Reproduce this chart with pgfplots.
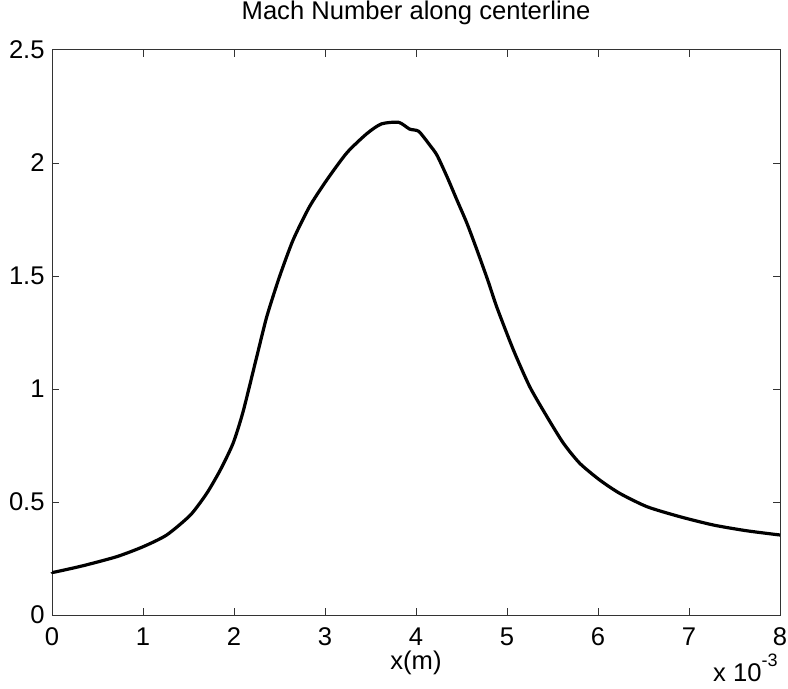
\documentclass[border=0pt]{standalone}
\usepackage{pgfplots}
\pgfplotsset{compat=1.18}
\usepackage{fontspec}
\setmainfont{Liberation Sans}
\begin{document}
\fontsize{12.8bp}{15bp}\selectfont
\begin{tikzpicture}
\begin{axis}[
  name=ax, scale only axis, width=364bp, height=282.5bp,
  xmin=0, xmax=8, ymin=0, ymax=2.5,
  xtick={0,1,2,3,4,5,6,7,8},
  ytick={0,0.5,1,1.5,2,2.5},
  yticklabels={0,0.5,1,1.5,2,2.5},
  tick align=inside, major tick length=3.5bp,
  axis line style={black!80, line width=0.5bp},
  every tick/.style={black!80, line width=0.5bp},
  /pgf/number format/assume math mode=true,
  xticklabel style={anchor=base, yshift=-15bp, inner sep=0pt},
  yticklabel style={anchor=east, inner sep=0pt, xshift=-3.5bp},
  title={Mach Number along centerline},
  title style={at={(0.5,1)}, anchor=base, yshift=9.2bp, inner sep=0pt},
  xlabel={x(m)},
  xlabel style={at={(0.5,0)}, anchor=base, yshift=-27bp, inner sep=0pt},
  clip=false,
]
\addplot[black, line width=1.6bp, line join=round, smooth, tension=0.4] coordinates {
(0.00,0.190) (0.03,0.190) (0.34,0.218) (0.71,0.258) (1.00,0.302)
(1.26,0.354) (1.52,0.442) (1.70,0.538) (1.85,0.642) (1.99,0.760)
(2.10,0.900) (2.25,1.143) (2.36,1.320) (2.50,1.497) (2.65,1.660)
(2.83,1.807) (3.02,1.925) (3.24,2.045) (3.46,2.130) (3.62,2.173)
(3.81,2.180) (3.93,2.150) (4.03,2.140) (4.15,2.080) (4.23,2.035)
(4.34,1.940) (4.45,1.836) (4.56,1.733) (4.67,1.615) (4.79,1.480)
(4.89,1.360) (5.07,1.173) (5.25,1.010) (5.44,0.877) (5.62,0.760)
(5.80,0.671) (6.02,0.597) (6.24,0.538) (6.54,0.479) (6.90,0.435)
(7.27,0.398) (7.63,0.373) (8.00,0.354)
};
\end{axis}
\node[anchor=base east, inner sep=0pt] at ([xshift=-1bp, yshift=-33bp]ax.south east)
  {x 10\raisebox{0.55em}{\fontsize{9bp}{10bp}\selectfont -3}};
\pgfresetboundingbox
\path[use as bounding box] ([xshift=-26bp, yshift=-36.5bp]ax.south west) rectangle ([xshift=4bp, yshift=25bp]ax.north east);
\end{tikzpicture}
\end{document}
